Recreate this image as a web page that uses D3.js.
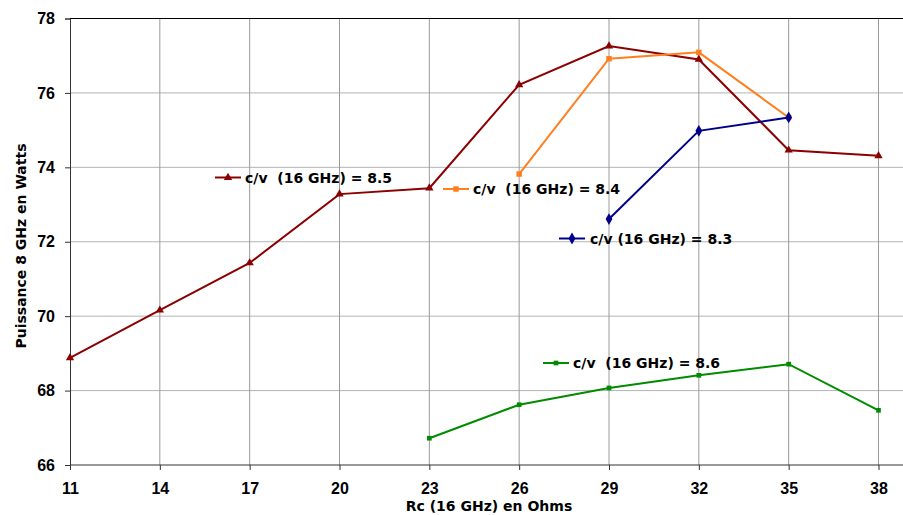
<!DOCTYPE html>
<html><head><meta charset="utf-8">
<script src="https://cdn.jsdelivr.net/npm/d3@7"></script>
<style>body{margin:0;background:#fff}svg{display:block}text{font-family:"DejaVu Sans",sans-serif;font-weight:bold}</style>
</head><body><svg id="c" width="903" height="515"></svg>
<script>
const xTicks = [11,14,17,20,23,26,29,32,35,38];
const yTicks = [66,68,70,72,74,76,78];
const s85x = [11,14,17,20,23,26,29,32,35,38];
const s85y = [68.88,70.16,71.43,73.28,73.44,76.22,77.26,76.90,74.46,74.31];
const s84x = [26,29,32,35];
const s84y = [73.82,76.92,77.09,75.34];
const s83x = [29,32,35];
const s83y = [72.61,74.98,75.34];
const s86x = [23,26,29,32,35,38];
const s86y = [66.72,67.62,68.07,68.41,68.71,67.47];
const names = ["c/v\u00a0 (16 GHz) = 8.5","c/v\u00a0 (16 GHz) = 8.4","c/v (16 GHz) = 8.3","c/v\u00a0 (16 GHz) = 8.6"];
const colors = ["#8B0000","#FF7F1E","#00008B","#008B00"];

const svg = d3.select("#c");
const x = d3.scaleLinear().domain([11,38]).range([70,878.5]);
const y = d3.scaleLinear().domain([66,78]).range([465,18.5]);

// grid
svg.append("g").selectAll("line").data(yTicks.slice(1,-1)).join("line")
  .attr("x1",70).attr("x2",903).attr("y1",d=>y(d)).attr("y2",d=>y(d))
  .attr("stroke","#b4b4b4").attr("stroke-width",1);
svg.append("g").selectAll("line").data(xTicks.slice(1)).join("line")
  .attr("x1",d=>x(d)).attr("x2",d=>x(d)).attr("y1",18.5).attr("y2",465)
  .attr("stroke","#9a9a9a").attr("stroke-width",1);
svg.append("line").attr("x1",70).attr("x2",903).attr("y1",18.5).attr("y2",18.5).attr("stroke","#000");

// axes
const yAxis = d3.axisLeft(y).tickValues(yTicks).tickSize(5).tickPadding(10);
const gy = svg.append("g").attr("transform","translate(70,0)").call(yAxis);
const xAxis = d3.axisBottom(x).tickValues(xTicks).tickSize(5).tickPadding(13);
const gx = svg.append("g").attr("transform","translate(0,465)").call(xAxis);
[gy,gx].forEach(g=>{
  g.select(".domain").attr("stroke","#333");
  g.selectAll(".tick line").attr("stroke","#333");
  g.selectAll("text").attr("font-size",16).attr("fill","#000").style("font-family",'"Liberation Sans",Arial,sans-serif').style("font-weight","bold");
});
gx.select(".domain").attr("d","M70,0H903");

svg.append("text").attr("x",489).attr("y",511).attr("text-anchor","middle").attr("font-size",14).text("Rc (16 GHz) en Ohms");
svg.append("text").attr("transform","translate(26,246) rotate(-90)").attr("text-anchor","middle").attr("font-size",14).text("Puissance 8 GHz en Watts");

const series = [[s85x,s85y],[s84x,s84y],[s83x,s83y],[s86x,s86y]];
const line = d3.line().x(d=>x(d[0])).y(d=>y(d[1]));
const tri = d3.symbol().type(d3.symbolTriangle).size(30);
const sq = d3.symbol().type(d3.symbolSquare).size(30);
const dia = d3.symbol().type(d3.symbolDiamond).size(40);
const star = d3.symbol().type(d3.symbolSquare).size(22);
const shapes = [tri,sq,dia,star];

series.forEach((s,i)=>{
  const pts = s[0].map((v,j)=>[v,s[1][j]]);
  svg.append("path").attr("d",line(pts)).attr("fill","none").attr("stroke",colors[i]).attr("stroke-width",2);
  svg.append("g").selectAll("path").data(pts).join("path")
    .attr("d",shapes[i]()).attr("transform",d=>`translate(${x(d[0])},${y(d[1])})`).attr("fill",colors[i]);
});

// legend labels
const legPos = [[215,177.5,30],[443,189,30],[559,238.5,31],[543,363,30]];
legPos.forEach((p,i)=>{
  const g = svg.append("g").attr("transform",`translate(${p[0]},${p[1]})`);
  g.append("line").attr("x1",0).attr("x2",26).attr("stroke",colors[i]).attr("stroke-width",2);
  g.append("path").attr("d",shapes[i]()).attr("transform","translate(13,0)").attr("fill",colors[i]);
  g.append("text").attr("x",p[2]).attr("y",5).attr("font-size",14).text(names[i]);
});
</script></body></html>
